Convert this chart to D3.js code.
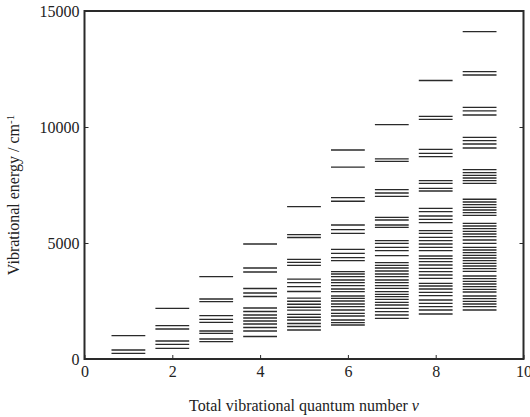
<!doctype html>
<html lang="en">
  <head>
    <meta charset="utf-8">
    <style>
    body { margin: 0; background: #fff; }
    svg text { font-family: "Liberation Serif", "Times New Roman", serif; fill: #222; }
    .level { stroke: #2a2a2a; stroke-width: 1.3px; }
    .frame { fill: none; stroke: #2a2a2a; stroke-width: 2px; }
    .axis path { display: none; }
    .axis line { stroke: #2a2a2a; stroke-width: 1px; }
    </style>
    <title>Vibrational levels</title>
  </head>
  <body>
    <div id="content"></div>

    <script src="https://d3js.org/d3.v7.min.js"></script>
    <script type="text/javascript">
    var w = 530;
    var h = 417;
    var margin = {left: 84.5, right: 6.5, top: 11, bottom: 58};

    // energy levels (cm-1) read for each total quantum number v
    var quantumNumbers = [1, 2, 3, 4, 5, 6, 7, 8, 9];
    var levelsV1 = [1004, 388, 246];
    var levelsV2 = [2185, 1437, 1293, 776, 632, 460];
    var levelsV3 = [3547, 2586, 2471, 1868, 1710, 1580, 1207, 1106, 862, 747];
    var levelsV4 = [4957, 3922, 3750, 3039, 2845, 2694, 2198, 2047, 1897, 1767, 1638, 1509, 1358, 1207, 970];
    var levelsV5 = [6566, 5360, 5237, 4297, 4168, 4039, 3440, 3290, 3120, 2910,
                    2620, 2490, 2360, 2230, 2110, 1920, 1800, 1680, 1530, 1400, 1250];
    var levelsV6 = [9009, 8270, 6953, 6800, 5776, 5575, 5417, 4728, 4556, 4366, 4237,
                    3764, 3664, 3549, 3405, 3290, 3161, 3017, 2902, 2716, 2615, 2500, 2371,
                    2256, 2112, 1968, 1853, 1681, 1566, 1466];
    var levelsV7 = [10100, 8630, 8520, 7300, 7155, 7012, 6106, 5991, 5776, 5675,
                    5101, 4986, 4813, 4670, 4454,
                    4152, 4037, 3922, 3793, 3664, 3549, 3405, 3290, 3161, 3046, 2902, 2787,
                    2687, 2572, 2443, 2328, 2184, 2040, 1897, 1753];
    var levelsV8 = [12005, 10460, 10330, 9039, 8866, 8721, 7685, 7572, 7357, 7241,
                    6495, 6349, 6164, 6021, 5875,
                    5532, 5417, 5244, 5101, 4957, 4813, 4670, 4440, 4325, 4195, 4052, 3908,
                    3764, 3621, 3477, 3261, 3147, 3017, 2873, 2730, 2543, 2399, 2256, 2112, 1940];
    var levelsV9 = [14109, 12385, 12241, 10845, 10695, 10517, 9556, 9411, 9267, 9095,
                    8160, 8032, 7917, 7802, 7687, 7572,
                    6885, 6767, 6652, 6537, 6422, 6307, 6193,
                    5848, 5733, 5618, 5503, 5388, 5273, 5129, 4986, 4813, 4698, 4583, 4468,
                    4353, 4238, 4123, 4009, 3894, 3779, 3578, 3463, 3348, 3233, 3118, 3003,
                    2888, 2716, 2601, 2486, 2371, 2256, 2112];
    var xTicks = [0, 2, 4, 6, 8, 10];
    var yTicks = [0, 5000, 10000, 15000];

    var allLevels = [levelsV1, levelsV2, levelsV3, levelsV4, levelsV5, levelsV6, levelsV7, levelsV8, levelsV9];
    var dataset = [];
    quantumNumbers.forEach((v, i) => {
      allLevels[i].forEach(e => dataset.push({v: v, e: e}));
    });

    var svg = d3.select('#content')
                .append('svg')
                .attr('width', w)
                .attr('height', h);

    var xScale = d3.scaleLinear()
                   .domain([0, 10])
                   .range([margin.left, w - margin.right]);

    var yScale = d3.scaleLinear()
                   .domain([0, 15000])
                   .range([h - margin.bottom, margin.top]);

    var halfWidth = 0.385;

    // bottom axis, ticks pointing inward
    svg.append('g')
      .attr('class', 'axis')
      .attr('transform', `translate(0, ${h - margin.bottom})`)
      .call(d3.axisBottom(xScale).tickValues(xTicks).tickFormat(d3.format('d'))
              .tickSizeInner(-4).tickSizeOuter(0).tickPadding(7))
      .call(g => g.selectAll('text').style('font-size', '16px'));

    // left axis
    svg.append('g')
      .attr('class', 'axis')
      .attr('transform', `translate(${margin.left}, 0)`)
      .call(d3.axisLeft(yScale).tickValues(yTicks).tickFormat(d3.format('d'))
              .tickSizeInner(-4).tickSizeOuter(0).tickPadding(5))
      .call(g => g.selectAll('text').style('font-size', '16px'));

    // right side ticks, no labels
    svg.append('g')
      .attr('class', 'axis')
      .attr('transform', `translate(${w - margin.right}, 0)`)
      .call(d3.axisRight(yScale).tickValues(yTicks).tickSizeInner(-4).tickSizeOuter(0).tickFormat(''));

    svg.append('rect')
      .attr('class', 'frame')
      .attr('x', margin.left)
      .attr('y', margin.top)
      .attr('width', w - margin.right - margin.left)
      .attr('height', h - margin.bottom - margin.top);

    svg.append('g')
      .selectAll('line')
      .data(dataset)
      .enter()
      .append('line')
      .attr('class', 'level')
      .attr('x1', d => xScale(d.v - halfWidth))
      .attr('x2', d => xScale(d.v + halfWidth))
      .attr('y1', d => yScale(d.e))
      .attr('y2', d => yScale(d.e));

    // axis titles
    var xTitle = svg.append('text')
      .attr('x', (margin.left + w - margin.right) / 2)
      .attr('y', 411)
      .attr('text-anchor', 'middle')
      .style('font-size', '16px');
    xTitle.append('tspan').text('Total vibrational quantum number ');
    xTitle.append('tspan').style('font-style', 'italic').text('v');

    var yTitle = svg.append('text')
      .attr('transform', 'translate(19, 195) rotate(-90)')
      .attr('text-anchor', 'middle')
      .style('font-size', '16px');
    yTitle.append('tspan').text('Vibrational energy / cm');
    yTitle.append('tspan').attr('dy', '-0.45em').style('font-size', '11px').text('-1');
    </script>
  </body>
</html>
